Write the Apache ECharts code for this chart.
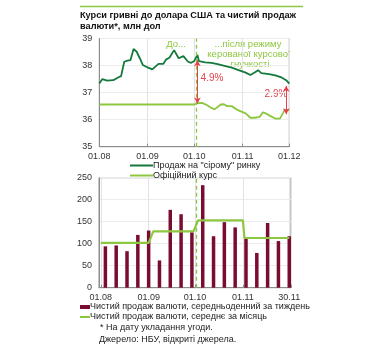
<!DOCTYPE html>
<html><head><meta charset="utf-8">
<script src="https://cdn.jsdelivr.net/npm/echarts@6/dist/echarts.min.js"></script>
<style>html,body{margin:0;padding:0;background:#fff}#c{width:382px;height:348px}</style>
</head><body><div id="c"></div>
<script>
// ---- data ----
const greyDates = ['2015-08-01','2015-08-03','2015-08-06','2015-08-10','2015-08-13','2015-08-15','2015-08-17','2015-08-19','2015-08-21','2015-08-23','2015-08-25','2015-08-27','2015-08-29','2015-08-30','2015-09-01','2015-09-04','2015-09-08','2015-09-11','2015-09-13','2015-09-15','2015-09-18','2015-09-21','2015-09-24','2015-09-27','2015-09-29','2015-10-01','2015-10-03','2015-10-04','2015-10-08','2015-10-12','2015-10-16','2015-10-21','2015-10-25','2015-10-29','2015-11-03','2015-11-06','2015-11-09','2015-11-11','2015-11-13','2015-11-18','2015-11-22','2015-11-26','2015-11-29','2015-12-01'];
const greyRate = [37.34,37.50,37.44,37.46,37.56,37.61,38.14,38.18,38.20,38.61,38.51,38.27,38.02,38.08,37.93,37.86,38.06,38.06,38.23,38.29,38.57,38.27,38.35,38.14,38.10,38.17,38.39,38.16,38.12,38.10,38.05,37.98,37.92,37.84,37.74,37.65,37.75,37.83,37.72,37.68,37.64,37.56,37.46,37.33];
const officialDates = ['2015-08-01','2015-10-01','2015-10-03','2015-10-06','2015-10-09','2015-10-12','2015-10-14','2015-10-18','2015-10-20','2015-10-22','2015-10-25','2015-10-29','2015-11-03','2015-11-06','2015-11-09','2015-11-12','2015-11-14','2015-11-16','2015-11-19','2015-11-22','2015-11-25','2015-11-28','2015-12-01'];
const officialRate = [36.56,36.56,36.61,36.62,36.54,36.43,36.38,36.56,36.57,36.50,36.50,36.35,36.23,36.07,36.07,36.10,36.27,36.23,36.13,36.04,36.04,36.35,36.35];
const weekDates = ['2015-08-04','2015-08-11','2015-08-18','2015-08-25','2015-09-01','2015-09-08','2015-09-15','2015-09-22','2015-09-29','2015-10-06','2015-10-13','2015-10-20','2015-10-27','2015-11-03','2015-11-10','2015-11-17','2015-11-24','2015-12-01'];
const weeklySales = [94,96,83,120,130,62,177,167,126,233,117,149,137,115,79,147,106,117];
const monthLineDates = ['2015-08-01','2015-09-01','2015-09-04','2015-09-30','2015-10-03','2015-11-01','2015-11-02','2015-12-01'];
const monthLineValues = [102,102,128,128,153,153,113,113];
const regimeDate = '2015-10-02';
const gapArrows = [ {date:'2015-10-03', top:38.2, bottom:36.6, label:'4.9%'}, {date:'2015-11-29', top:37.25, bottom:36.2, label:'2.9%'} ];
const xTicksTop = ['01.08','01.09','01.10','01.11','01.12'];
const xTicksBottom = ['01.08','01.09','01.10','01.11','30.11'];
const yTicksTop = [35,36,37,38,39];
const yTicksBottom = [0,50,100,150,200,250];

const FONT = '"Liberation Sans", Arial, sans-serif';
const DARK = '#137a3c', LIGHT = '#8dc63f', MAROON = '#7a0c34', RED = '#e5404c';
const zip = (a,b)=>a.map((d,i)=>[d,b[i]]);
const monthLabel = (labels)=> (v)=>{ const d=new Date(v); const i=(d.getFullYear()-2015)*12+d.getMonth()-7; return (d.getDate()===1 && labels[i]!==undefined)? labels[i] : ''; };
const DAY = 86400000;

function xAxis(gi, labels){
  return {type:'time', gridIndex:gi, min:'2015-08-01', max:'2015-12-01', splitNumber:4, minInterval:28*DAY,
    axisLine:{show:true, lineStyle:{color:'#8c8c8c'}}, axisTick:{show:true, inside:true, length:3, lineStyle:{color:'#8c8c8c'}},
    axisLabel:{formatter:monthLabel(labels), color:'#333', fontFamily:FONT, fontSize:9, margin:5, showMinLabel:true, showMaxLabel:true, hideOverlap:false},
    splitLine:{show:true, lineStyle:{color:'#e3e3e3'}}};
}
function yAxis(gi, ticks){
  return {type:'value', gridIndex:gi, min:ticks[0], max:ticks[ticks.length-1], interval:ticks[1]-ticks[0],
    axisLine:{show:true, lineStyle:{color:'#8c8c8c'}}, axisTick:{show:false},
    axisLabel:{color:'#333', fontFamily:FONT, fontSize:9, margin:7},
    splitLine:{show:true, lineStyle:{color:'#ececec'}}};
}

const chart = echarts.init(document.getElementById('c'), null, {renderer:'canvas'});
chart.setOption({
  animation:false,
  textStyle:{fontFamily:FONT},
  grid:[
    {left:99.3, right:92.7, top:38.5, height:108.2, show:true, borderColor:'#8c8c8c', borderWidth:1},
    {left:99, right:91, top:177.7, height:110, show:true, borderColor:'#8c8c8c', borderWidth:1}
  ],
  xAxis:[xAxis(0, xTicksTop), xAxis(1, xTicksBottom)],
  yAxis:[yAxis(0, yTicksTop), yAxis(1, yTicksBottom)],
  legend:[
    {orient:'vertical', left:130, top:160.5, itemWidth:23, itemHeight:2, itemGap:0, icon:'rect',
      data:['Продаж на "сірому" ринку','Офіційний курс'],
      textStyle:{fontFamily:FONT, fontSize:9, color:'#222', padding:[0,0,0,-5], lineHeight:10}, padding:0, selectedMode:false},
    {left:80, top:302.5, itemWidth:10, itemHeight:4, icon:'rect', data:['Чистий продаж валюти, середньоденний за тиждень'],
      textStyle:{fontFamily:FONT, fontSize:9, color:'#222', padding:[0,0,0,-5]}, padding:0, selectedMode:false},
    {left:80, top:312.5, itemWidth:10, itemHeight:2, icon:'rect', data:['Чистий продаж валюти, середнє за місяць'],
      textStyle:{fontFamily:FONT, fontSize:9, color:'#222', padding:[0,0,0,-5]}, padding:0, selectedMode:false}
  ],
  series:[
    {name:'Офіційний курс', type:'line', xAxisIndex:0, yAxisIndex:0, data:zip(officialDates, officialRate), symbol:'none',
      lineStyle:{color:LIGHT, width:1.8}, itemStyle:{color:LIGHT},
      markLine:{silent:true, symbol:'none', label:{show:false}, lineStyle:{color:LIGHT, type:[4,3], width:1.3}, data:[{xAxis:regimeDate}]}},
    {name:'Продаж на "сірому" ринку', type:'line', xAxisIndex:0, yAxisIndex:0, data:zip(greyDates, greyRate), symbol:'none',
      lineStyle:{color:DARK, width:1.8}, itemStyle:{color:DARK},
      markLine:{silent:true, symbol:['arrow','arrow'], symbolSize:[5,6], label:{show:false}, lineStyle:{color:RED, type:'solid', width:1},
        data:gapArrows.map(a=>[{coord:[a.date,a.top]},{coord:[a.date,a.bottom]}])}},
    {name:'Чистий продаж валюти, середньоденний за тиждень', type:'bar', xAxisIndex:1, yAxisIndex:1, data:zip(weekDates, weeklySales),
      barWidth:3.5, clip:false, itemStyle:{color:MAROON},
      markLine:{silent:true, symbol:'none', label:{show:false}, lineStyle:{color:LIGHT, type:[4,3], width:1.3}, data:[{xAxis:regimeDate}]}},
    {name:'Чистий продаж валюти, середнє за місяць', type:'line', xAxisIndex:1, yAxisIndex:1, data:zip(monthLineDates, monthLineValues), symbol:'none',
      lineStyle:{color:LIGHT, width:2.2}, itemStyle:{color:LIGHT}, z:5}
  ],
  graphic:[
    {type:'line', shape:{x1:80, y1:6.5, x2:303, y2:6.5}, style:{stroke:LIGHT, lineWidth:1.5}},
    {type:'text', x:80, y:15.7, style:{text:'Курси гривні до долара США та чистий продаж', font:'bold 9.2px '+FONT, fill:'#111', verticalAlign:'middle'}},
    {type:'text', x:80, y:26, style:{text:'валюти*, млн дол', font:'bold 9.2px '+FONT, fill:'#111', verticalAlign:'middle'}},
    {type:'text', x:176, y:44, style:{text:'До...', font:'9.5px '+FONT, fill:LIGHT, align:'center', verticalAlign:'middle'}},
    {type:'text', x:248, y:44, style:{text:'...після режиму', font:'9.5px '+FONT, fill:LIGHT, align:'center', verticalAlign:'middle'}},
    {type:'text', x:249, y:54.5, style:{text:'керованої курсової', font:'9.5px '+FONT, fill:LIGHT, align:'center', verticalAlign:'middle'}},
    {type:'text', x:250, y:64, style:{text:'гнучкості', font:'9.5px '+FONT, fill:LIGHT, align:'center', verticalAlign:'middle'}},
    {type:'text', x:212, y:78.5, style:{text:gapArrows[0].label, font:'10px '+FONT, fill:RED, align:'center', verticalAlign:'middle'}},
    {type:'text', x:276, y:94, style:{text:gapArrows[1].label, font:'10px '+FONT, fill:RED, align:'center', verticalAlign:'middle'}},
    {type:'text', x:100, y:328, style:{text:'* На дату укладання угоди.', font:'9px '+FONT, fill:'#222', verticalAlign:'middle'}},
    {type:'text', x:99, y:339.5, style:{text:'Джерело: НБУ, відкриті джерела.', font:'9px '+FONT, fill:'#222', verticalAlign:'middle'}}
  ]
});
</script></body></html>
